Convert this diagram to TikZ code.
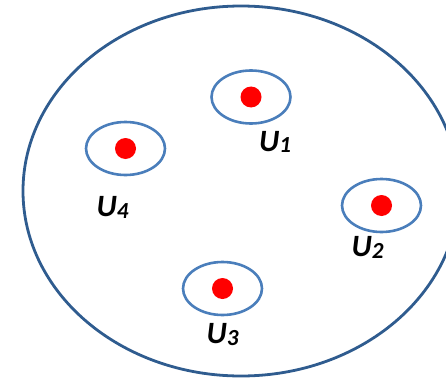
\documentclass[tikz,border=0pt]{standalone}
\usepackage{fontspec}
\setmainfont{Carlito}
\usetikzlibrary{positioning,shapes.geometric}

\definecolor{regionblue}{HTML}{2F5C8F}
\definecolor{userblue}{HTML}{4A7EBB}
\definecolor{userred}{HTML}{FF0000}

\newcommand{\ulabel}[1]{U\raisebox{-1.5pt}{\fontsize{23}{23}\selectfont #1}}

\begin{document}
\begin{tikzpicture}[
    x=1pt, y=-1pt,
    region/.style={
        draw=regionblue,
        ellipse,
        line width=2.8pt,
        inner sep=0pt,
        minimum width=436pt,
        minimum height=370pt
    },
    userzone/.style={
        draw=userblue,
        ellipse,
        line width=2.6pt,
        inner sep=0pt,
        minimum width=79pt,
        minimum height=53pt
    },
    userdot/.style={
        fill=userred,
        circle,
        inner sep=0pt,
        minimum size=21pt
    },
    lbl/.style={
        inner sep=0pt,
        font=\fontsize{31}{31}\selectfont\bfseries\itshape
    }
]
\useasboundingbox (0,0) rectangle (446,377);

\node[region] (cell) at (241,191) {};

\node[userzone] (u1) at (251,97) {};
\node[userzone] (u2) at (381.5,205.5) {};
\node[userzone] (u3) at (222.5,288.5) {};
\node[userzone] (u4) at (125.5,148.5) {};

\node[userdot] (d1) at (u1) {};
\node[userdot] (d2) at (u2) {};
\node[userdot] (d3) at (u3) {};
\node[userdot] (d4) at (u4) {};

\node[lbl, below=6pt of u1, xshift=24pt] (l1) {\ulabel{1}};
\node[lbl, below=3pt of u2, xshift=-14pt] (l2) {\ulabel{2}};
\node[lbl, below=7pt of u3] (l3) {\ulabel{3}};
\node[lbl, below=20pt of u4, xshift=-13pt] (l4) {\ulabel{4}};

\end{tikzpicture}
\end{document}
